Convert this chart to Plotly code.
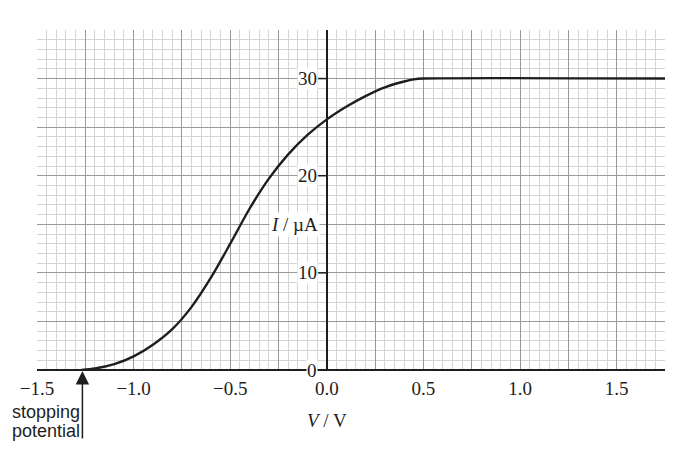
import plotly.graph_objects as go

# ── Data ────────────────────────────────────────────────────────────────────
V = [-1.27, -1.2, -1.1, -1.0, -0.9, -0.8, -0.7, -0.6, -0.5, -0.4,
     -0.3, -0.2, -0.1, 0.0, 0.1, 0.2, 0.3, 0.4, 0.45, 0.5, 1.75]
I = [0.0, 0.15, 0.6, 1.4, 2.6, 4.2, 6.5, 9.5, 13.0, 16.6,
     19.7, 22.2, 24.2, 25.8, 27.1, 28.2, 29.1, 29.7, 29.92, 30.0, 30.0]

X_TICKS = [-1.5, -1.25, -1.0, -0.75, -0.5, -0.25, 0.0, 0.25, 0.5, 0.75,
           1.0, 1.25, 1.5, 1.75]
X_LABELS = ["−1.5", "", "−1.0", "", "−0.5", "", "0.0", "", "0.5", "",
            "1.0", "", "1.5", ""]
Y_GRID = [0, 5, 10, 15, 20, 25, 30, 35]
Y_LABELS = [0, 10, 20, 30]
STOP_V = -1.265

# ── Style ───────────────────────────────────────────────────────────────────
INK = "#1e1e1e"
MAJOR = "#9a9a9a"
MINOR = "#d4d4d4"
SERIF = "Liberation Serif, Times New Roman, serif"
SANS = "Liberation Sans, Arial, sans-serif"
SERIF_SIZE = 19

fig = go.Figure()
fig.add_trace(go.Scatter(
    x=V, y=I, mode="lines",
    line=dict(color=INK, width=2.4, shape="spline", smoothing=0.8),
    hoverinfo="skip", showlegend=False,
))

# y tick labels sit beside the I axis (x = 0), on a white patch
for val in Y_LABELS:
    fig.add_annotation(
        x=0, y=val, xref="x", yref="y", text=str(val), showarrow=False,
        xanchor="right", yanchor="middle", xshift=-9, bgcolor="white",
        borderpad=0, font=dict(family=SERIF, size=SERIF_SIZE, color=INK),
    )
    fig.add_shape(type="line", xref="x", yref="y", x0=-0.045, x1=0,
                  y0=val, y1=val, line=dict(color=INK, width=1.5))

fig.add_annotation(
    x=0, y=15, xref="x", yref="y", text="<i>I</i> / µA", showarrow=False,
    xanchor="right", yanchor="middle", xshift=-7, bgcolor="white",
    borderpad=1, font=dict(family=SERIF, size=SERIF_SIZE, color=INK),
)
fig.add_annotation(
    x=0, y=0, xref="x", yref="paper", text="<i>V</i> / V", showarrow=False,
    xanchor="center", yanchor="middle", yshift=-50,
    font=dict(family=SERIF, size=SERIF_SIZE, color=INK),
)

# stopping potential marker
fig.add_annotation(
    x=STOP_V, y=0, xref="x", yref="y", text="", showarrow=True,
    ax=0, ay=70, arrowhead=2, arrowsize=1.8, arrowwidth=1.5,
    arrowcolor=INK, standoff=1,
)
for label, shift in (("stopping", -42), ("potential", -61)):
    fig.add_annotation(
        x=STOP_V, y=0, xref="x", yref="paper", text=label, showarrow=False,
        xanchor="right", yanchor="middle", yshift=shift, xshift=-1,
        borderpad=0, font=dict(family=SANS, size=18, color=INK),
    )

# the page body keeps its 8px margin, so the figure is sized to sit inside it
fig.update_layout(
    width=671, height=438,
    margin=dict(l=25, r=14, t=22, b=76),
    paper_bgcolor="white", plot_bgcolor="white",
    showlegend=False,
    xaxis=dict(
        range=[-1.5, 1.75], tickmode="array", tickvals=X_TICKS,
        ticktext=X_LABELS, ticks="", ticklabelstandoff=5,
        tickfont=dict(family=SERIF, size=SERIF_SIZE, color=INK),
        showgrid=True, gridcolor=MAJOR, gridwidth=1.3,
        zeroline=True, zerolinecolor=INK, zerolinewidth=2,
        minor=dict(tick0=-1.5, dtick=0.05, showgrid=True,
                   gridcolor=MINOR, gridwidth=1),
        fixedrange=True,
    ),
    yaxis=dict(
        range=[0, 35], tickmode="array", tickvals=Y_GRID,
        showticklabels=False, ticks="",
        showgrid=True, gridcolor=MAJOR, gridwidth=1.3,
        zeroline=True, zerolinecolor=INK, zerolinewidth=2,
        minor=dict(tick0=0, dtick=1, showgrid=True,
                   gridcolor=MINOR, gridwidth=1),
        fixedrange=True,
    ),
)

fig.write_html("out.html")
